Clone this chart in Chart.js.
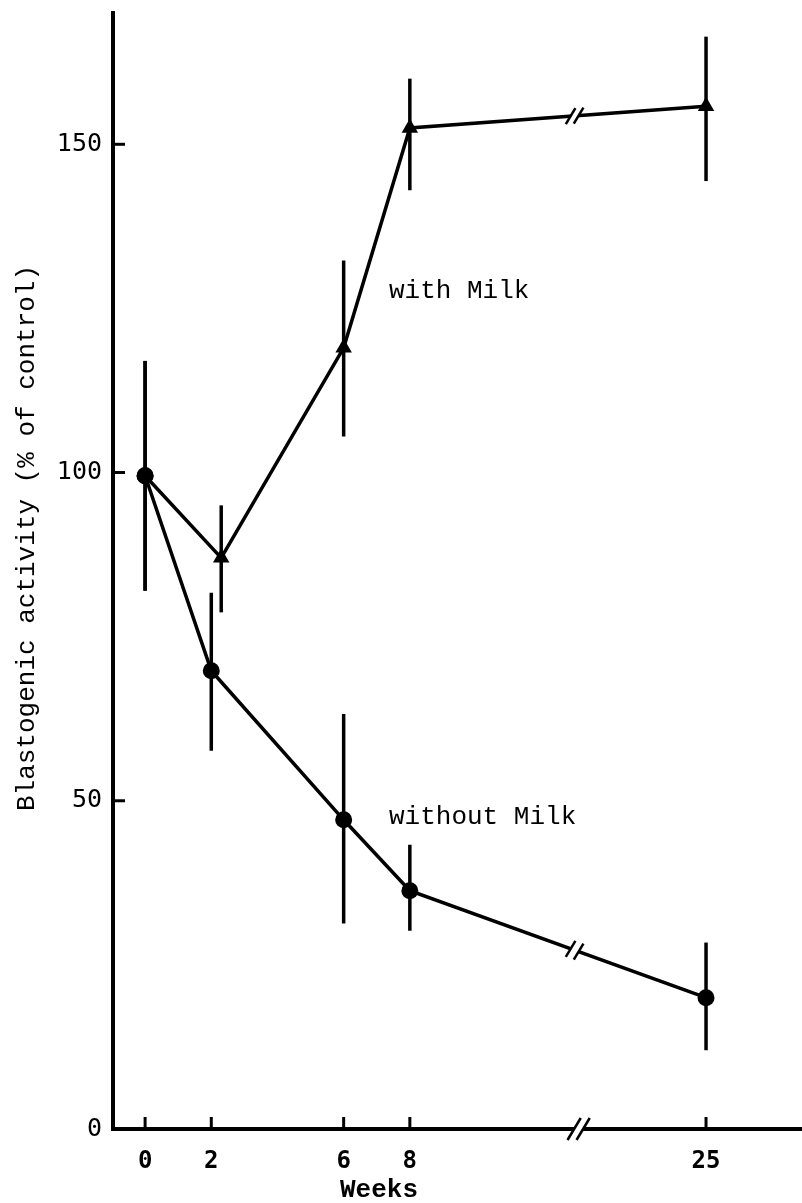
<!DOCTYPE html>
<html>
<head>
<meta charset="utf-8">
<script src="https://cdn.jsdelivr.net/npm/chart.js@4.4.0/dist/chart.umd.min.js"></script>
<style>
  html, body { margin: 0; padding: 0; background: #fff; }
  #wrap { width: 802px; height: 1203px; }
</style>
</head>
<body>
<div id="wrap"><canvas id="chart" width="802" height="1203"></canvas></div>
<script>
// weeks on the axis and their labels
const weeks = [0, 2, 6, 8, 25];
const weekLabels = ["0", "2", "6", "8", "25"];

// "with Milk" (triangles); week-2 triangle is drawn a little right of the tick in the original
const milkWeeks = [0, 2.3, 6, 8, 25];
const milkValues = [99.5, 87, 119, 152.5, 155.8];
const milkLow = [82, 78.7, 105.5, 143, 144.4];
const milkHigh = [117, 95, 132.3, 160, 166.4];

// "without Milk" (circles)
const noMilkWeeks = [0, 2, 6, 8, 25];
const noMilkValues = [99.5, 69.8, 47.1, 36.3, 20];
const noMilkLow = [82, 57.6, 31.3, 30.2, 12];
const noMilkHigh = [117, 81.7, 63.2, 43.3, 28.4];

const yTicks = [0, 50, 100, 150];

// broken time axis: everything after week 8 is pulled left
const BREAK_POS = 13.1;
const SHIFT_AFTER_BREAK = 8.05;
function axisPos(w) {
  return w > 8 ? w - SHIFT_AFTER_BREAK : w;
}

const MONO = "'Liberation Mono', 'DejaVu Sans Mono', monospace";

function toPoints(xs, ys) {
  return xs.map((w, i) => ({ x: axisPos(w), y: ys[i] }));
}

function drawBreak(ctx, x, y, h, gap, slope) {
  ctx.save();
  ctx.strokeStyle = "#fff";
  ctx.lineWidth = 8;
  ctx.beginPath();
  ctx.moveTo(x - gap / 2, y + slope * (-gap / 2));
  ctx.lineTo(x + gap / 2, y + slope * (gap / 2));
  ctx.stroke();
  ctx.strokeStyle = "#000";
  ctx.lineWidth = 2.5;
  [-gap / 2, gap / 2].forEach((dx) => {
    const cx = x + dx;
    const cy = y + slope * dx;
    ctx.beginPath();
    ctx.moveTo(cx - h * 0.3, cy + h / 2);
    ctx.lineTo(cx + h * 0.3, cy - h / 2);
    ctx.stroke();
  });
  ctx.restore();
}

const decor = {
  id: "decor",
  beforeDatasetsDraw(chart) {
    const { ctx } = chart;
    const xs = chart.scales.x;
    const ys = chart.scales.y;
    ctx.save();
    ctx.strokeStyle = "#000";
    ctx.lineWidth = 3.5;
    const bars = (wk, lo, hi) => {
      wk.forEach((w, i) => {
        const px = xs.getPixelForValue(axisPos(w));
        ctx.beginPath();
        ctx.moveTo(px, ys.getPixelForValue(lo[i]));
        ctx.lineTo(px, ys.getPixelForValue(hi[i]));
        ctx.stroke();
      });
    };
    bars(milkWeeks, milkLow, milkHigh);
    bars(noMilkWeeks, noMilkLow, noMilkHigh);

    // inward tick marks
    ctx.lineWidth = 3;
    const base = chart.chartArea.bottom;
    weeks.forEach((w) => {
      const px = xs.getPixelForValue(axisPos(w));
      ctx.beginPath();
      ctx.moveTo(px, base);
      ctx.lineTo(px, base - 12);
      ctx.stroke();
    });
    const left = chart.chartArea.left;
    yTicks.forEach((v) => {
      if (v === 0) return;
      const py = ys.getPixelForValue(v);
      ctx.beginPath();
      ctx.moveTo(left, py);
      ctx.lineTo(left + 12, py);
      ctx.stroke();
    });
    ctx.restore();
  },
  afterDatasetsDraw(chart) {
    const { ctx } = chart;
    const xs = chart.scales.x;
    const ys = chart.scales.y;
    const bx = xs.getPixelForValue(BREAK_POS);

    // breaks on the two lines, between week 8 and week 25
    [0, 1].forEach((di) => {
      const pts = chart.getDatasetMeta(di).data;
      const a = pts[3], b = pts[4];
      const slope = (b.y - a.y) / (b.x - a.x);
      const by = a.y + slope * (bx - 4 - a.x);
      drawBreak(ctx, bx - 4, by, 16, 8, slope);
    });
    // break on the x axis
    drawBreak(ctx, bx, chart.chartArea.bottom, 22, 9, 0);

    ctx.save();
    ctx.fillStyle = "#000";
    ctx.font = "26px " + MONO;
    ctx.textAlign = "left";
    ctx.textBaseline = "alphabetic";
    ctx.fillText("with Milk", xs.getPixelForValue(7.37), ys.getPixelForValue(126.6));
    ctx.fillText("without Milk", xs.getPixelForValue(7.37), ys.getPixelForValue(46.5));

    ctx.textAlign = "center";
    ctx.textBaseline = "middle";
    ctx.font = "bold 26px " + MONO;
    ctx.fillText("Weeks", 379, 1190);

    ctx.font = "26px " + MONO;
    ctx.translate(27, 538);
    ctx.rotate(-Math.PI / 2);
    ctx.fillText("Blastogenic activity (% of control)", 0, 0);
    ctx.restore();
  }
};

const chart = new Chart(document.getElementById("chart"), {
  type: "line",
  data: {
    datasets: [
      {
        label: "with Milk",
        data: toPoints(milkWeeks, milkValues),
        borderColor: "#000",
        borderWidth: 3.5,
        backgroundColor: "#000",
        pointStyle: milkWeeks.map((_, i) => (i === 0 ? "circle" : "triangle")),
        pointRadius: milkWeeks.map((_, i) => (i === 0 ? 8.5 : 9.5)),
        pointBorderWidth: 0,
        tension: 0
      },
      {
        label: "without Milk",
        data: toPoints(noMilkWeeks, noMilkValues),
        borderColor: "#000",
        borderWidth: 3.5,
        backgroundColor: "#000",
        pointStyle: "circle",
        pointRadius: 8.5,
        pointBorderWidth: 0,
        tension: 0
      }
    ]
  },
  options: {
    responsive: false,
    animation: false,
    devicePixelRatio: 1,
    layout: { autoPadding: false, padding: { top: 13, right: 0, left: 0, bottom: 0 } },
    plugins: {
      legend: { display: false },
      tooltip: { enabled: false }
    },
    scales: {
      x: {
        type: "linear",
        min: -0.97,
        max: 19.85,
        grid: { display: false, drawTicks: false },
        border: { display: true, color: "#000", width: 4 },
        afterBuildTicks: (scale) => {
          scale.ticks = weeks.map((w) => ({ value: axisPos(w) }));
        },
        afterFit: (scale) => {
          scale.height = 74;
          scale.paddingLeft = 0;
          scale.paddingRight = 0;
        },
        ticks: {
          color: "#000",
          padding: 18,
          maxRotation: 0,
          autoSkip: false,
          font: { family: "'DejaVu Sans Mono', monospace", size: 24, weight: "bold" },
          callback: (v, i) => weekLabels[i]
        }
      },
      y: {
        min: 0,
        max: 170,
        grid: { display: false, drawTicks: false },
        border: { display: true, color: "#000", width: 4 },
        afterBuildTicks: (scale) => {
          scale.ticks = yTicks.map((v) => ({ value: v }));
        },
        afterFit: (scale) => {
          scale.width = 113;
          scale.paddingTop = 0;
          scale.paddingBottom = 0;
        },
        ticks: {
          color: "#000",
          padding: 11,
          font: { family: "'DejaVu Sans Mono', monospace", size: 25 },
          callback: (v) => String(v)
        }
      }
    }
  },
  plugins: [decor]
});
</script>
</body>
</html>
